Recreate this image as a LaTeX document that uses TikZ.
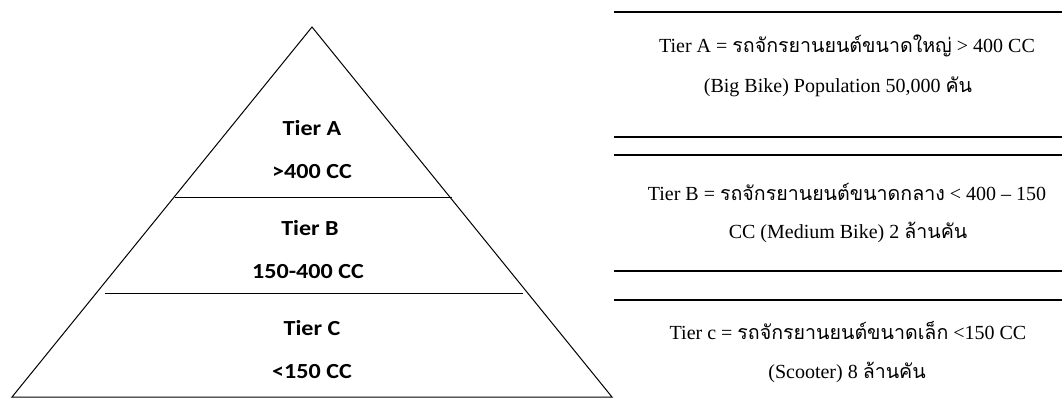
\documentclass[tikz,border=0pt]{standalone}
\usepackage{fontspec}
\setmainfont{Liberation Serif}
\newfontfamily\thai[Script=Thai,Scale=0.98]{Loma}
\newfontfamily\calib{Carlito}
\tikzset{
  edge/.style={line width=1pt, black},
  rule/.style={line width=1.8pt, black},
  tierlbl/.style={font=\calib\bfseries\fontsize{21.5}{24}\selectfont, inner sep=0pt, xscale=1.12, transform shape},
  desc/.style={font=\fontsize{20}{23}\selectfont, inner sep=0pt, anchor=center}
}
\begin{document}
\begin{tikzpicture}[x=1pt,y=-1pt]
\useasboundingbox (0,0) rectangle (1062,416);
% pyramid
\coordinate (apex) at (312,27);
\coordinate (bl) at (12,397);
\coordinate (br) at (612,397);
\draw[edge, line join=miter] (apex) -- (br) -- (bl) -- cycle;
\coordinate (abL) at (175,197);
\coordinate (abR) at (452,197);
\coordinate (bcL) at (105,293);
\coordinate (bcR) at (523,293);
\draw[edge] (abL) -- (abR);
\draw[edge] (bcL) -- (bcR);
\node[tierlbl] (ta1) at (312,128) {Tier A};
\node[tierlbl] (ta2) at (312,172) {>400 CC};
\node[tierlbl] (tb1) at (310,228) {Tier B};
\node[tierlbl] (tb2) at (308,272) {150-400 CC};
\node[tierlbl] (tc1) at (312,328) {Tier C};
\node[tierlbl] (tc2) at (312,372) {<150 CC};
% right side rules
\coordinate (r1L) at (614,12);  \coordinate (r1R) at (1062,12);
\coordinate (r2L) at (614,137); \coordinate (r2R) at (1062,137);
\coordinate (r3L) at (614,155); \coordinate (r3R) at (1062,155);
\coordinate (r4L) at (614,271); \coordinate (r4R) at (1062,271);
\coordinate (r5L) at (614,300); \coordinate (r5R) at (1062,300);
\draw[rule] (r1L) -- (r1R);
\draw[rule] (r2L) -- (r2R);
\draw[rule] (r3L) -- (r3R);
\draw[rule] (r4L) -- (r4R);
\draw[rule] (r5L) -- (r5R);
% descriptions
\node[desc] (da1) at (847,46) {Tier A = {\thai รถจักรยานยนต์ขนาดใหญ่} > 400 CC};
\node[desc] (da2) at (838,87) {(Big Bike) Population 50,000 {\thai คัน}};
\node[desc] (db1) at (847,192) {Tier B = {\thai รถจักรยานยนต์ขนาดกลาง} < 400 – 150};
\node[desc] (db2) at (848,232) {CC (Medium Bike) 2 {\thai ล้านคัน}};
\node[desc] (dc1) at (848,331) {Tier c = {\thai รถจักรยานยนต์ขนาดเล็ก} <150 CC};
\node[desc] (dc2) at (847,372) {(Scooter) 8 {\thai ล้านคัน}};
\end{tikzpicture}
\end{document}
